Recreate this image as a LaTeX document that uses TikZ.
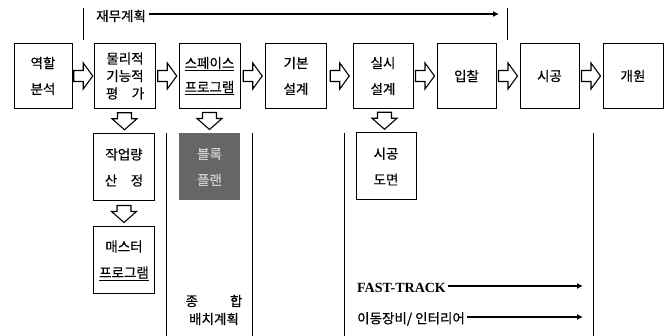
\documentclass[tikz,border=0pt]{standalone}
\usepackage{fontspec}
\setmainfont{Noto Sans CJK KR}[FakeBold=0.5]
\newfontfamily\trackfont{Liberation Serif}
\usetikzlibrary{arrows.meta,calc}
\definecolor{blockgray}{rgb}{0.40,0.40,0.40}
\definecolor{blocktext}{rgb}{0.82,0.82,0.82}

\begin{document}
\begin{tikzpicture}[
  x=1pt, y=-1pt,
  >={Latex[length=6pt,width=6pt]},
  every node/.style={font=\fontsize{13.5}{26}\selectfont, inner sep=0pt},
  stage/.style={rectangle, draw=black, line width=1pt, minimum width=61pt, minimum height=65pt, align=center},
  substage/.style={stage, minimum height=67pt},
  darkstage/.style={substage, draw=none, fill=blockgray, text=blocktext},
  divider/.style={line width=0.9pt},
  timeline/.style={->, line width=1.3pt},
  hollowright/.pic={\draw[line width=1.1pt, fill=white] (-9.5,-5.5) -- (0,-5.5) -- (0,-13) -- (9.5,0) -- (0,13) -- (0,5.5) -- (-9.5,5.5) -- cycle;},
  hollowdown/.pic={\draw[line width=1.1pt, fill=white] (-7,-8.5) -- (7,-8.5) -- (7,-2.5) -- (12.5,-2.5) -- (0,8.5) -- (-12.5,-2.5) -- (-7,-2.5) -- cycle;},
]
\useasboundingbox (0,0) rectangle (670,336);

% ---- main stages ----
\node[stage, minimum width=58pt] (ra) at (43,76) {역할\\분석};
\node[stage, font=\fontsize{13.5}{17.5}\selectfont] (pf) at (125,76) {물리적\\기능적\\평\hspace{1em}가};
\node[stage, font=\fontsize{13.5}{24}\selectfont] (sp) at (209.5,76) {\underline{스페이스}\\\underline{프로그램}};
\node[stage] (bd) at (296,76) {기본\\설계};
\node[stage, minimum width=60pt] (dd) at (383,76) {실시\\설계};
\node[stage, minimum width=59pt] (bid) at (466.5,76) {입찰};
\node[stage, minimum width=59pt] (con) at (549.5,76) {시공};
\node[stage, minimum width=60pt] (open) at (633,76) {개원};

% ---- sub stages ----
\node[substage] (wq) at (124,167.5) {작업량\\산\hspace{1em}정};
\node[substage] (mp) at (124,260.5) {매스터\\\underline{프로그램}};
\node[darkstage] (bp) at (209.5,167) {블록\\플랜};
\node[substage, minimum width=60pt] (cd) at (386,166.5) {시공\\도면};

% ---- hollow arrows ----
\pic at ($(ra.east)!0.5!(pf.west)$) {hollowright};
\pic at ($(pf.east)!0.5!(sp.west)$) {hollowright};
\pic at ($(sp.east)!0.5!(bd.west)$) {hollowright};
\pic at ($(bd.east)!0.5!(dd.west)$) {hollowright};
\pic at ($(dd.east)!0.5!(bid.west)$) {hollowright};
\pic at ($(bid.east)!0.5!(con.west)$) {hollowright};
\pic at ($(con.east)!0.5!(open.west)$) {hollowright};
\pic at ($(pf.south)!0.5!(wq.north)$) {hollowdown};
\pic at ($(wq.south)!0.5!(mp.north)$) {hollowdown};
\pic at ($(sp.south)!0.5!(bp.north)$) {hollowdown};
\pic at ($(dd.south)!0.5!(cd.north)$) {hollowdown};

% ---- dividers ----
\draw[divider] (83,8) -- (83,40);
\draw[divider] (507,8) -- (507,40);
\draw[divider] (166,133) -- (166,336);
\draw[divider] (252,133) -- (252,336);
\draw[divider] (344,133) -- (344,336);
\draw[divider] (593,133) -- (593,336);

% ---- time lines ----
\node[anchor=west, inner xsep=3pt] (fin) at (93,16) {재무계획};
\coordinate (finend) at (499,14);
\draw[timeline] (fin.east |- finend) -- (finend);

\node[anchor=west, inner xsep=2pt, font=\trackfont\bfseries\fontsize{14}{14}\selectfont] (ft) at (355,288) {FAST-TRACK};
\coordinate (ftend) at (583,286);
\draw[timeline, line width=1.8pt] (ft.east |- ftend) -- (ftend);

\node[anchor=west, inner xsep=2pt] (mv) at (355,319) {이동장비/ 인터리어};
\coordinate (mvend) at (583,317);
\draw[timeline, line width=1.8pt] (mv.east |- mvend) -- (mvend);

\node[align=center, font=\fontsize{13.5}{18}\selectfont] (lay) at (214,310) {종\hspace{32pt}합\\배치계획};

\end{tikzpicture}
\end{document}
